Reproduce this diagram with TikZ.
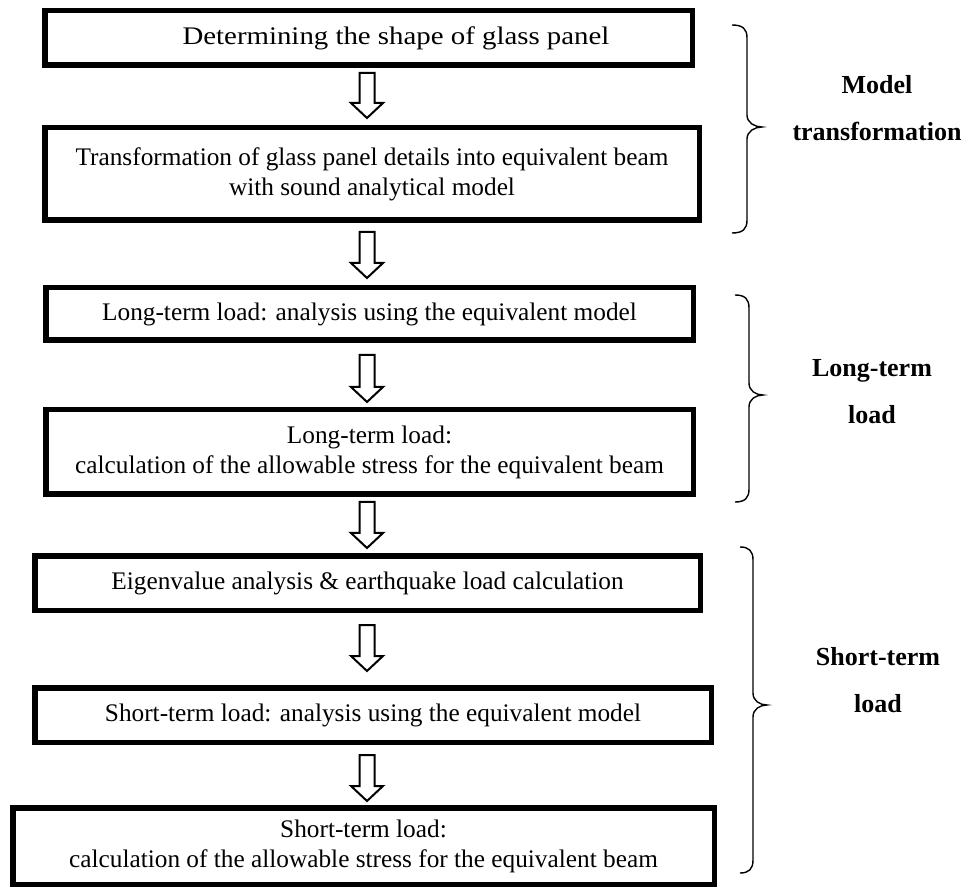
\documentclass[tikz,border=0pt]{standalone}
\usepackage{fontspec}
\setmainfont{Liberation Serif}
\usepackage{graphicx}
\usetikzlibrary{calc}
\tikzset{
  box/.style={draw=black, line width=5.5pt, inner sep=0pt, align=center,
    font=\fontsize{25.3}{30}\selectfont},
  lbl/.style={align=center, inner sep=0pt, font=\fontsize{26}{47}\selectfont\bfseries},
  hollow/.style={draw=black, line width=2pt, line join=miter,
    to path={let \p1=(\tikztostart), \p2=(\tikztotarget) in
      (\x1-7.5pt,\y1) -- (\x1+7.5pt,\y1) -- (\x1+7.5pt,\y2+15pt) -- (\x1+16pt,\y2+15pt)
      -- (\x1,\y2) -- (\x1-16pt,\y2+15pt) -- (\x1-7.5pt,\y2+15pt) -- cycle}},
  bracestyle/.style={draw=black, line width=1.4pt}
}
\newcommand\mkbrace[6]{%
  \draw[bracestyle] (#1,#4) .. controls (#2-4,#4) and (#2,#4+4) .. (#2,#4+13)
    -- (#2,#5-12) .. controls (#2,#5-4) and (#3-7,#5) .. (#3,#5)
    .. controls (#3-7,#5) and (#2,#5+4) .. (#2,#5+12)
    -- (#2,#6-13) .. controls (#2,#6-4) and (#2-4,#6) .. (#1,#6);}
\begin{document}
\begin{tikzpicture}[x=1pt,y=-1pt]
\useasboundingbox (0,0) rectangle (978,890);
\coordinate (ax) at (367,0);
% boxes
\node[box, minimum width=647.5pt, minimum height=54.5pt] (b1) at (368.5,38)
  {\hspace*{55pt}\scalebox{1.14}[1]{Determining the shape of glass panel}};
\node[box, minimum width=654.5pt, minimum height=92.5pt] (b2) at (372,174)
  {Transformation of glass panel details into equivalent beam\\with sound analytical model};
\node[box, minimum width=647.5pt, minimum height=52.5pt] (b3) at (369.5,314)
  {Long-term load: analysis using the equivalent model};
\node[box, minimum width=647.5pt, minimum height=84.5pt] (b4) at (369.5,452)
  {Long-term load:\\calculation of the allowable stress for the equivalent beam};
\node[box, minimum width=665.5pt, minimum height=54.5pt] (b5) at (367.5,583)
  {Eigenvalue analysis \& earthquake load calculation};
\node[box, minimum width=676.5pt, minimum height=54.5pt] (b6) at (373,715)
  {Short-term load: analysis using the equivalent model};
\node[box, minimum width=701.5pt, minimum height=76.5pt] (b7) at (363.5,846)
  {Short-term load:\\calculation of the allowable stress for the equivalent beam};
% arrow end points
\coordinate (s1) at ($(b1.south -| ax)+(0,5)$);  \coordinate (e1) at ($(b2.north -| ax)+(0,-7)$);
\coordinate (s2) at ($(b2.south -| ax)+(0,9)$);  \coordinate (e2) at ($(b3.north -| ax)+(0,-7)$);
\coordinate (s3) at ($(b3.south -| ax)+(0,12)$); \coordinate (e3) at ($(b4.north -| ax)+(0,-5)$);
\coordinate (s4) at ($(b4.south -| ax)+(0,5)$);  \coordinate (e4) at ($(b5.north -| ax)+(0,-5)$);
\coordinate (s5) at ($(b5.south -| ax)+(0,12)$); \coordinate (e5) at ($(b6.north -| ax)+(0,-14)$);
\coordinate (s6) at ($(b6.south -| ax)+(0,10)$); \coordinate (e6) at ($(b7.north -| ax)+(0,-4)$);
\draw[hollow] (s1) to (e1);
\draw[hollow] (s2) to (e2);
\draw[hollow] (s3) to (e3);
\draw[hollow] (s4) to (e4);
\draw[hollow] (s5) to (e5);
\draw[hollow] (s6) to (e6);
% braces
\mkbrace{732}{747}{762}{25}{127}{233}
\mkbrace{735}{749}{763}{295}{395}{502}
\mkbrace{740}{753}{767}{547}{705}{873}
% labels
\node[lbl] (l1) at (877,108.5) {Model\\transformation};
\node[lbl] (l2) at (872,391.5) {Long-term\\load};
\node[lbl] (l3) at (878,680) {Short-term\\load};
\end{tikzpicture}
\end{document}
